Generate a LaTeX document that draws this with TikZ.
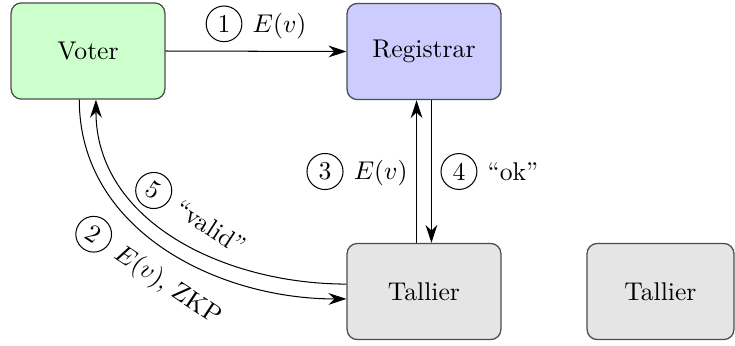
\documentclass[tikz,border=0pt]{standalone}
\usetikzlibrary{arrows.meta}
\newcommand\cnum[1]{\tikz[baseline=(cn.base)]\node[draw,circle,inner sep=2pt,anchor=base,rotate=0](cn){#1};\hspace{4pt}}
\begin{document}
\begin{tikzpicture}[x=0.39pt,y=0.39pt,
  box/.style={draw=black!70, line width=0.5pt, rounded corners=4pt, minimum width=60pt, minimum height=37.5pt, inner sep=0pt},
  arr/.style={-{Stealth[length=7pt,width=4.6pt]}, black}]
\useasboundingbox (0,0) rectangle (735,-345);
\node[box, fill=green!20] (voter) at (88,-51) {Voter};
\node[box, fill=blue!20] (reg) at (424,-51.5) {Registrar};
\node[box, fill=black!10] (tal) at (424,-291.5) {Tallier};
\node[box, fill=black!10, minimum width=57.3pt] (tal2) at (660.5,-291.5) {Tallier};
\draw[arr] (voter.east) -- (reg.west) node[midway, above] {\cnum{1}$E(v)$};
\draw[arr] ([xshift=-2.9pt]tal.north) -- ([xshift=-2.9pt]reg.south) node[midway, left] {\cnum{3}$E(v)$};
\draw[arr] ([xshift=2.9pt]reg.south) -- ([xshift=2.9pt]tal.north) node[midway, right] {\cnum{4}``ok''};
\draw[arr] ([xshift=-3.4pt]voter.south) to[out=-90,in=180] node[sloped, below, pos=0.5] {\cnum{2}$E(v)$, ZKP} ([yshift=-2.9pt]tal.west);
\draw[arr] ([yshift=2.9pt]tal.west) to[out=180,in=-90] node[sloped, above, pos=0.5] {\cnum{5}``valid''} ([xshift=3.1pt]voter.south);
\end{tikzpicture}
\end{document}
